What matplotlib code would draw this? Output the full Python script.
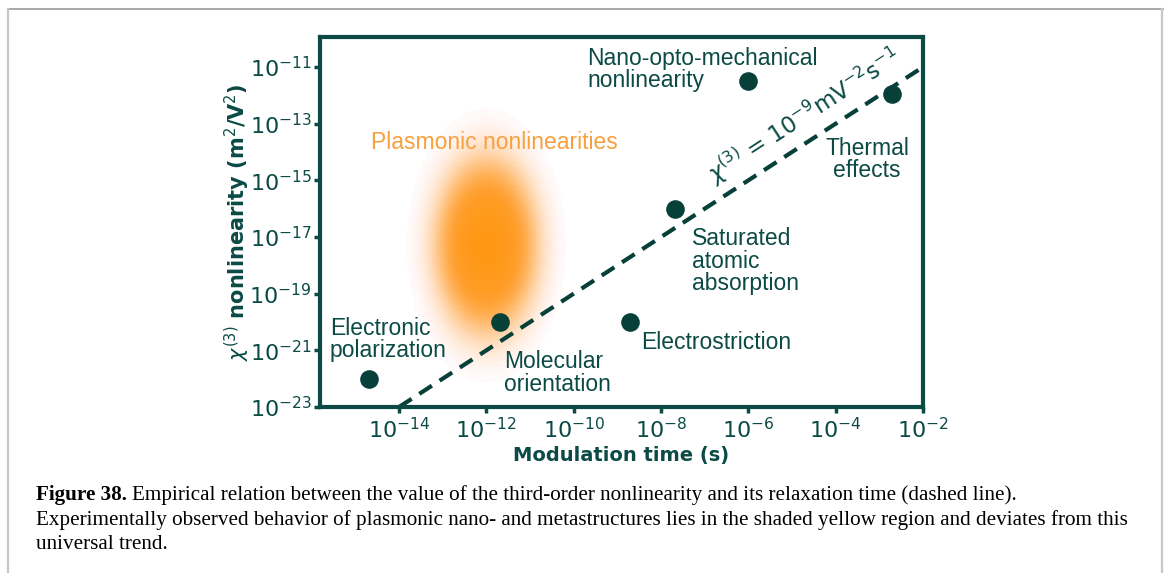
import matplotlib
matplotlib.use("Agg")
import matplotlib.pyplot as plt
import numpy as np
from matplotlib.colors import LinearSegmentedColormap
from matplotlib.lines import Line2D

# 数据: 调制时间 (s) 与三阶非线性 (m^2/V^2)
labels = ["Electronic\npolarization", "Molecular\norientation", "Electrostriction",
          "Saturated\natomic\nabsorption", "Nano-opto-mechanical\nnonlinearity",
          "Thermal\neffects"]
mod_time = [2.0e-15, 2.0e-12, 2.0e-9, 2.1e-8, 1.0e-6, 1.9e-3]
chi3 = [1.0e-22, 1.0e-20, 1.0e-20, 1.0e-16, 3.2e-12, 1.1e-12]
# 标签位置 (log10 x, log10 y)
label_lx = [-15.58, -11.59, -8.46, -7.29, -9.69, -3.28]
label_ly = [-20.63, -21.80, -20.74, -17.85, -11.10, -14.25]
label_ha = ["left", "left", "left", "left", "left", "center"]

# 经验关系 chi3 = 1e-9 * t
trend_t = [1e-14, 1e-2]
trend_coef = 1e-9

# 等离激元区域 (log10 中心, 高斯宽度)
plasmon_center = (-12.0, -17.3)
plasmon_sigma = (0.55, 1.45)

x_ticks = [1e-14, 1e-12, 1e-10, 1e-8, 1e-6, 1e-4, 1e-2]
y_ticks = [1e-23, 1e-21, 1e-19, 1e-17, 1e-15, 1e-13, 1e-11]

teal = "#0b4a45"
dot = "#073f39"
orange_txt = "#f8a040"

W, H = 1168, 573
fig = plt.figure(figsize=(W / 100, H / 100), dpi=100)
ax = fig.add_axes([320 / W, 1 - 407 / H, (923 - 320) / W, (407 - 37) / H])
ax.set_xscale("log")
ax.set_yscale("log")
ax.set_xlim(10 ** -15.81, 1e-2)
ax.set_ylim(1e-23, 10 ** -9.94)

# 橙色光晕
lx = np.linspace(-15.0, -9.0, 240)
ly = np.linspace(-22.5, -12.0, 240)
LX, LY = np.meshgrid(lx, ly)
rx = (LX - plasmon_center[0]) / plasmon_sigma[0]
ry = (LY - plasmon_center[1]) / plasmon_sigma[1]
glow = np.exp(-0.5 * (rx ** 2 + ry ** 2))
cmap = LinearSegmentedColormap.from_list(
    "glow", [(1.0, 0.64, 0.2, 0.0), (1.0, 0.59, 0.08, 1.0)])
ax.pcolormesh(10 ** LX, 10 ** LY, glow, cmap=cmap, vmin=0, vmax=1,
              shading="gouraud", zorder=1, rasterized=True)

# 趋势虚线
tt = np.array(trend_t)
ax.plot(tt, trend_coef * tt, color=dot, lw=3.0, dashes=(3.6, 2.2),
        dash_capstyle="butt", zorder=2)

# 数据点
ax.scatter(mod_time, chi3, s=180, color=dot, zorder=3, linewidths=0)

for lab, x, y, ha in zip(labels, label_lx, label_ly, label_ha):
    ax.text(10 ** x, 10 ** y, lab, ha=ha, va="center", fontsize=16.5,
            family="Liberation Sans", color=teal, linespacing=0.95, zorder=4)

ax.text(10 ** -11.82, 10 ** -13.68, "Plasmonic nonlinearities", ha="center",
        va="center", fontsize=16.5, family="Liberation Sans", color=orange_txt)

# 虚线标注, 旋转角度与线一致
p0 = ax.transData.transform((1e-14, 1e-23))
p1 = ax.transData.transform((1e-2, 1e-11))
ang = np.degrees(np.arctan2(p1[1] - p0[1], p1[0] - p0[0]))
ax.text(10 ** -4.72, 10 ** -12.72,
        r"$\chi^{(3)}$ = 10$^{-9}$mV$^{-2}$s$^{-1}$",
        rotation=ang, rotation_mode="anchor", ha="center", va="center",
        fontsize=16.5, color=teal)

ax.set_xticks(x_ticks)
ax.set_yticks(y_ticks)
ax.minorticks_off()
ax.tick_params(direction="out", length=4, width=2.5, color=teal,
               labelcolor=teal, labelsize=16, pad=3)
ax.tick_params(axis="y", pad=2)
for s in ax.spines.values():
    s.set_color(teal)
    s.set_linewidth(3.0)

ax.set_xlabel("Modulation time (s)", fontsize=14, fontweight="bold",
              color=teal, labelpad=3)
ax.set_ylabel(r"$\chi^{(3)}$ nonlinearity (m$^2$/V$^2$)", fontsize=15,
              fontweight="bold", color=teal)
ax.yaxis.set_label_coords(-0.112, 0.5)

# 图注
cap_lines = [
    "Empirical relation between the value of the third-order nonlinearity and its relaxation time (dashed line).",
    "Experimentally observed behavior of plasmonic nano- and metastructures lies in the shaded yellow region and deviates from this",
    "universal trend.",
]
cap_base = [500, 525, 549]
cap_fs = 15.2
renderer = fig.canvas.get_renderer()
t_bold = fig.text(36 / W, 1 - cap_base[0] / H, "Figure 38.", fontsize=cap_fs,
                  fontweight="bold", family="Liberation Serif",
                  va="baseline", ha="left")
bb = t_bold.get_window_extent(renderer)
fig.text((bb.x1 + 5) / W, 1 - cap_base[0] / H, cap_lines[0], fontsize=cap_fs,
         family="Liberation Serif", va="baseline", ha="left")
for line, yb in zip(cap_lines[1:], cap_base[1:]):
    fig.text(36 / W, 1 - yb / H, line, fontsize=cap_fs,
             family="Liberation Serif", va="baseline", ha="left")

# 外框
fig.add_artist(Line2D([8 / W, 1163 / W], [1 - 9 / H, 1 - 9 / H],
                      transform=fig.transFigure, color="#9a9a9a", lw=1.2))
fig.add_artist(Line2D([8 / W, 8 / W], [0, 1 - 9 / H],
                      transform=fig.transFigure, color="#c8c8c8", lw=1.6))
fig.add_artist(Line2D([1162 / W, 1162 / W], [0, 1 - 9 / H],
                      transform=fig.transFigure, color="#c8c8c8", lw=1.6))

fig.savefig("out.png", dpi=100)
